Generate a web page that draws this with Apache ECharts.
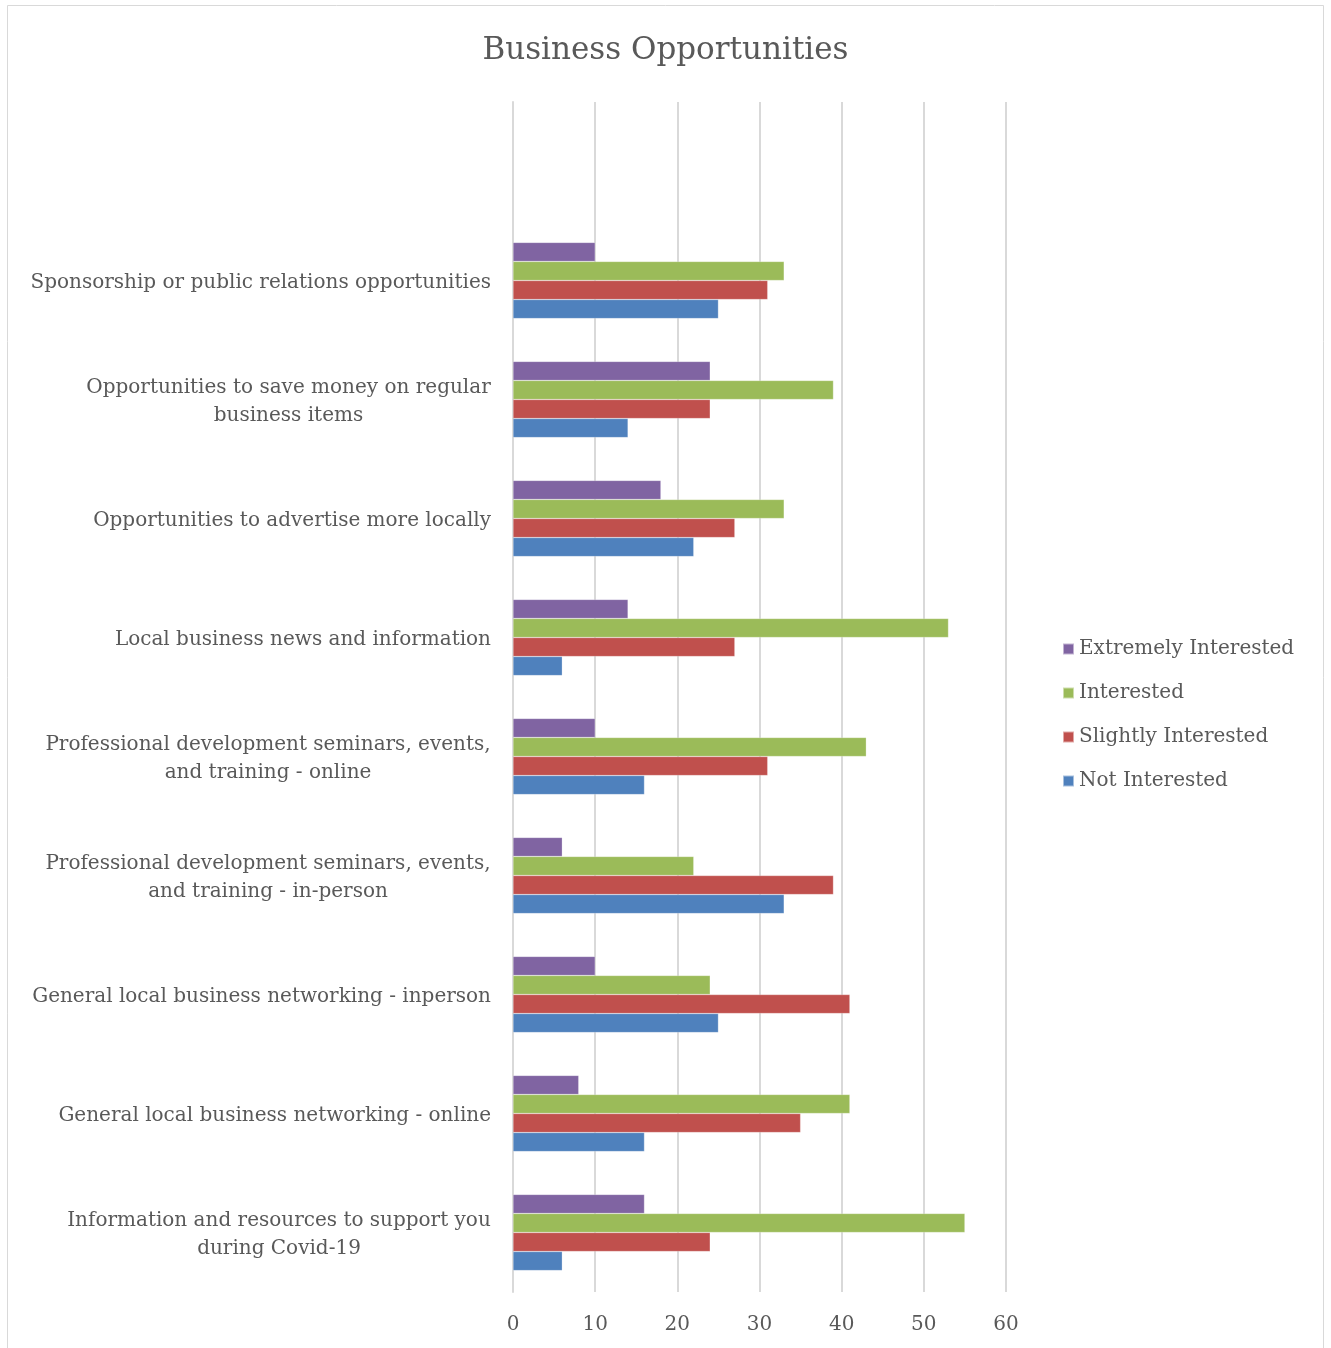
<!DOCTYPE html>
<html>
<head>
<meta charset="utf-8">
<script src="https://cdn.jsdelivr.net/npm/echarts@6/dist/echarts.min.js"></script>
<style>
  html, body { margin: 0; padding: 0; background: #fff; }
  #chart { width: 1331px; height: 1348px; }
</style>
</head>
<body>
<div id="chart"></div>
<script>
// categories bottom to top, with an empty slot at the top like the original
const categories = [
  'Information and resources to support you\nduring Covid-19',
  'General local business networking - online',
  'General local business networking - inperson',
  'Professional development seminars, events,\nand training - in-person',
  'Professional development seminars, events,\nand training - online',
  'Local business news and information',
  'Opportunities to advertise more locally',
  'Opportunities to save money on regular\nbusiness items',
  'Sponsorship or public relations opportunities',
  ''
]
const notInterested = [6, 16, 25, 33, 16, 6, 22, 14, 25, null]
const slightlyInterested = [24, 35, 41, 39, 31, 27, 27, 24, 31, null]
const interested = [55, 41, 24, 22, 43, 53, 33, 39, 33, null]
const extremelyInterested = [16, 8, 10, 6, 10, 14, 18, 24, 10, null]
const xTicks = [0, 10, 20, 30, 40, 50, 60]

const font = 'DejaVu Serif'
const labelSize = 20
const textColor = '#595959'

// wrapped labels are centred line by line, block right-aligned to the axis
const measure = document.createElement('canvas').getContext('2d')
measure.font = labelSize + 'px "' + font + '"'
const rich = {}
categories.forEach((c, i) => {
  const lines = c.split('\n')
  if (lines.length > 1) {
    const w = Math.ceil(Math.max(...lines.map(l => measure.measureText(l).width)))
    rich['w' + i] = { width: w, align: 'center', fontFamily: font, fontSize: labelSize, color: textColor, lineHeight: 28 }
  }
})

const chart = echarts.init(document.getElementById('chart'))
// echarts puts the first series at the top of each group
const seriesDefs = [
  { name: 'Extremely Interested', data: extremelyInterested, color: '#8064A2' },
  { name: 'Interested', data: interested, color: '#9BBB59' },
  { name: 'Slightly Interested', data: slightlyInterested, color: '#C0504D' },
  { name: 'Not Interested', data: notInterested, color: '#4F81BD' }
]
const option = {
  backgroundColor: '#fff',
  animation: false,
  textStyle: { fontFamily: font },
  title: {
    text: 'Business Opportunities',
    left: 'center',
    top: 30,
    textStyle: { fontFamily: font, fontWeight: 'normal', fontSize: 31, color: textColor }
  },
  legend: {
    orient: 'vertical',
    left: 1062,
    top: 639,
    padding: 0,
    itemWidth: 11,
    itemHeight: 11,
    itemGap: 24,
    icon: 'rect',
    data: ['Extremely Interested', 'Interested', 'Slightly Interested', 'Not Interested'],
    textStyle: { fontFamily: font, fontSize: 20, color: textColor }
  },
  graphic: [{
    type: 'rect',
    shape: { x: 7.5, y: 5.5, width: 1316, height: 1360 },
    style: { fill: null, stroke: '#d9d9d9', lineWidth: 1 },
    silent: true
  }],
  grid: { left: 513, right: 325, top: 102, bottom: 56 },
  xAxis: {
    type: 'value',
    min: 0,
    max: 60,
    interval: 10,
    axisLine: { show: false },
    axisTick: { show: false },
    splitLine: { lineStyle: { color: '#d9d9d9', width: 2 } },
    axisLabel: {
      fontFamily: font, fontSize: 20, color: textColor, margin: 23,
      formatter: v => xTicks.includes(v) ? String(v) : ''
    }
  },
  yAxis: {
    type: 'category',
    data: categories,
    axisLine: { show: true, lineStyle: { color: '#d9d9d9', width: 2 } },
    axisTick: { show: false },
    axisLabel: {
      fontFamily: font, fontSize: labelSize, color: textColor, margin: 22,
      lineHeight: 28, align: 'right', padding: [5, 0, 0, 0],
      rich: rich,
      formatter: (v, i) => {
        if (!rich['w' + i]) return v
        return v.split('\n').map(l => '{w' + i + '|' + l + '}').join('\n')
      }
    }
  },
  series: seriesDefs.map(s => ({
    name: s.name,
    type: 'bar',
    data: s.data,
    barGap: '0%',
    barCategoryGap: '36%',
    itemStyle: { color: s.color, borderColor: 'rgba(255,255,255,0.5)', borderWidth: 0.5 }
  }))
}
chart.setOption(option)
</script>
</body>
</html>
